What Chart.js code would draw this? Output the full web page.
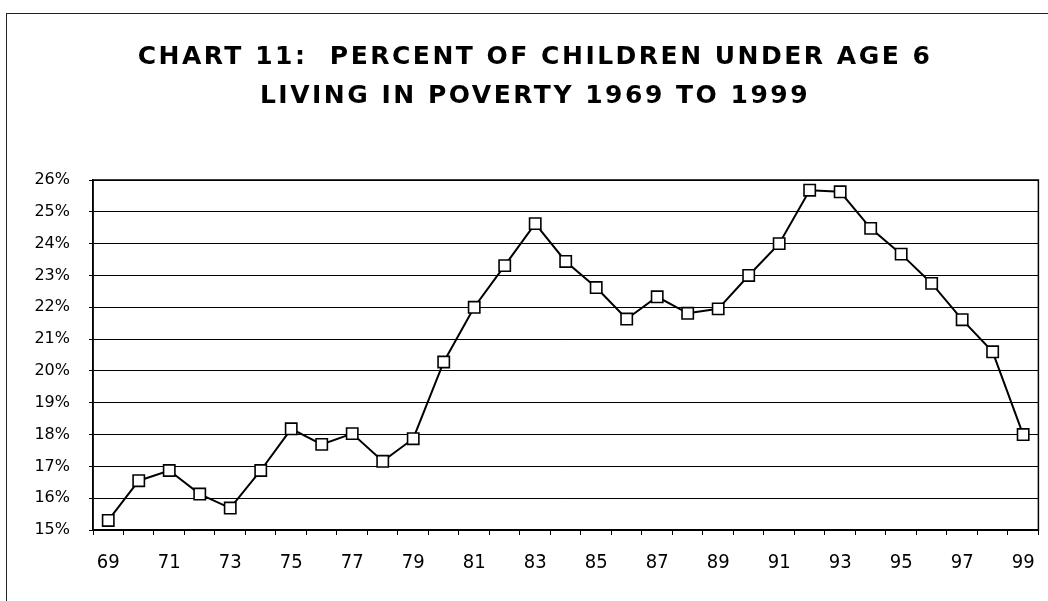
<!DOCTYPE html>
<html lang="en">
<head>
    <meta charset="UTF-8">
    <title>Chart 11</title>
    <style>
        html, body { margin: 0; padding: 0; background: #fff; overflow: hidden; }
        #frame { position: absolute; left: 6px; top: 13px; width: 1100px; height: 700px; border: 1.5px solid #222; }
        #wrap { position: absolute; left: 0; top: 0; width: 1048px; height: 601px; }
    </style>
</head>
<body>
<div id="frame"></div>
<div id="wrap"><canvas id="chart" width="1048" height="601"></canvas></div>

<script src="https://cdn.jsdelivr.net/npm/chart.js@4.4.0/dist/chart.umd.min.js"></script>
<script>
    // years 1969..1999, shown as two-digit labels
    const years = ['69','70','71','72','73','74','75','76','77','78','79','80','81','82','83','84',
                   '85','86','87','88','89','90','91','92','93','94','95','96','97','98','99'];
    // percent of children under 6 in poverty
    const poverty = [15.3, 16.55, 16.87, 16.13, 15.69, 16.87, 18.18, 17.69, 18.03, 17.16, 17.87,
                     20.28, 22.0, 23.31, 24.63, 23.44, 22.62, 21.63, 22.33, 21.81, 21.95,
                     23.0, 24.0, 25.68, 25.63, 24.48, 23.67, 22.75, 21.61, 20.6, 18.0];
    const yMin = 15, yMax = 26;
    const titleLines = ['CHART 11:  PERCENT OF CHILDREN UNDER AGE 6', 'LIVING IN POVERTY 1969 TO 1999'];

    // the title is set wide: letter spacing only while the title is drawn,
    // tick labels are drawn after the datasets (z: 1) with normal spacing
    const spacing = {
        id: 'spacing',
        beforeDraw(chart) { chart.ctx.letterSpacing = '2.5px'; },
        afterDatasetsDraw(chart) { chart.ctx.letterSpacing = '0px'; },
        afterDraw(chart) {
            // frame around the plot area
            const a = chart.chartArea, c = chart.ctx;
            c.save();
            c.strokeStyle = '#000';
            c.lineWidth = 1.5;
            c.strokeRect(a.left, a.top, a.right - a.left, a.bottom - a.top);
            c.restore();
        }
    };

    new Chart(document.getElementById('chart'), {
        type: 'line',
        data: {
            labels: years,
            datasets: [{
                data: poverty,
                borderColor: '#000',
                borderWidth: 2,
                pointStyle: 'rect',
                pointRadius: 8,
                pointBorderWidth: 1.6,
                pointBorderColor: '#000',
                pointBackgroundColor: '#fff',
                tension: 0
            }]
        },
        options: {
            responsive: false,
            animation: false,
            devicePixelRatio: 1,
            layout: { padding: { left: 31, right: 9, top: 0, bottom: 0 } },
            plugins: {
                legend: { display: false },
                tooltip: { enabled: false },
                title: {
                    display: true,
                    text: titleLines,
                    color: '#000',
                    font: { family: "'DejaVu Sans', sans-serif", size: 25, weight: 'bold', lineHeight: 1.58 },
                    padding: { top: 37.5, bottom: 63.5 }
                }
            },
            scales: {
                x: {
                    offset: true,
                    afterFit: s => { s.height = 71; s.paddingLeft = 0; s.paddingRight = 0; },
                    grid: { offset: true, drawOnChartArea: false, drawTicks: true, tickLength: 5, color: '#000', lineWidth: 1 },
                    border: { color: '#000', width: 1.5 },
                    ticks: {
                        z: 1,
                        color: '#000',
                        font: { family: "'DejaVu Sans Condensed', 'DejaVu Sans', sans-serif", size: 20 },
                        padding: 16, maxRotation: 0, autoSkip: false,
                        callback: (v, i) => (i % 2 === 0 ? years[i] : '')
                    }
                },
                y: {
                    min: yMin,
                    max: yMax,
                    afterFit: s => { s.width = 62; },
                    grid: { color: '#000', lineWidth: 1, tickLength: 4 },
                    border: { color: '#000', width: 1.5 },
                    ticks: {
                        z: 1,
                        stepSize: 1, color: '#000',
                        font: { family: "'DejaVu Sans', sans-serif", size: 16 },
                        padding: 19,
                        callback: v => v + '%'
                    }
                }
            }
        },
        plugins: [spacing]
    });
</script>
</body>
</html>
